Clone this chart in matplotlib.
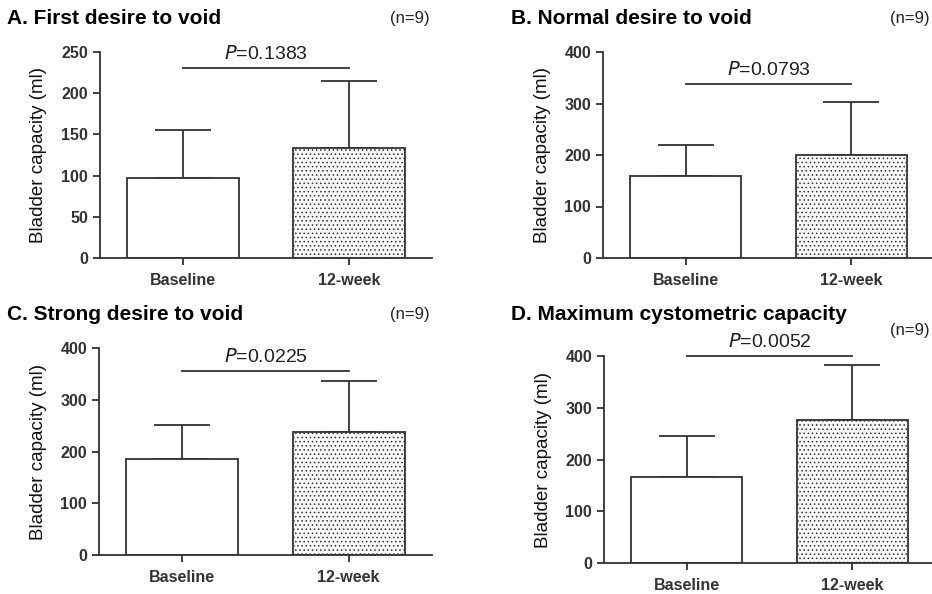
import matplotlib
matplotlib.use("Agg")
import matplotlib.pyplot as plt

plt.rcParams['font.family'] = ['Liberation Sans', 'DejaVu Sans']
plt.rcParams['hatch.color'] = '#a0a0a0'
plt.rcParams['hatch.linewidth'] = 0.6

groups = ["Baseline", "12-week"]
titles = ["A. First desire to void", "B. Normal desire to void",
          "C. Strong desire to void", "D. Maximum cystometric capacity"]
means = [[97, 133], [160, 200], [185, 237], [166, 276]]
sds = [[58, 82], [59, 103], [66, 100], [79, 107]]
pvalues = ["0.1383", "0.0793", "0.0225", "0.0052"]
pline = [231, 337, 355, 400]
ymax = [250, 400, 400, 400]
ystep = [50, 100, 100, 100]
n_label = "(n=9)"
ylabel = "Bladder capacity (ml)"

W, H = 932, 594
fig = plt.figure(figsize=(W / 100, H / 100), dpi=100)

# axes rectangles in pixels: left, top, right, bottom
rects = [(100, 52, 432, 258), (603, 52, 934, 258),
         (99, 348, 432, 555), (604, 356, 935, 563)]
title_pos = [(7, 19), (511, 19), (7, 314), (511, 314)]
n_pos = [(430, 19), (930, 19), (430, 314), (930, 330)]

dark = '#333333'
for i in range(4):
    l, t, r, b = rects[i]
    ax = fig.add_axes([l / W, 1 - b / H, (r - l) / W, (b - t) / H])
    x = [0, 1]
    ax.bar(x[0], means[i][0], width=0.67, color='white', edgecolor=dark, linewidth=1.3, zorder=2)
    ax.bar(x[1], means[i][1], width=0.67, color='#f8f8f8', edgecolor=dark, linewidth=1.3,
           hatch='....', zorder=2)
    ax.errorbar(x, means[i], yerr=[[0, 0], sds[i]], fmt='none', ecolor=dark,
                elinewidth=1.3, capsize=20, capthick=1.3, zorder=1)
    ax.plot([0, 1], [pline[i], pline[i]], color=dark, lw=1.3, clip_on=False)
    ax.text(0.5, pline[i] + ymax[i] * 0.025, r'$\it{P}$=' + pvalues[i], ha='center', va='bottom',
            fontsize=14, color='#222222')
    ax.set_xlim(-0.5, 1.5)
    ax.set_ylim(0, ymax[i])
    ax.set_yticks(range(0, ymax[i] + 1, ystep[i]))
    ax.set_xticks(x)
    ax.set_xticklabels(groups)
    for s in ['top', 'right']:
        ax.spines[s].set_visible(False)
    for s in ['left', 'bottom']:
        ax.spines[s].set_linewidth(1.3)
        ax.spines[s].set_color(dark)
    ax.tick_params(axis='both', colors=dark, width=1.3, labelsize=11.5, length=5)
    ax.tick_params(axis='x', pad=6)
    for lab in ax.get_xticklabels() + ax.get_yticklabels():
        lab.set_fontweight('bold')
        lab.set_color('#333333')
    ax.set_ylabel(ylabel, fontsize=13.5, color='#111111', labelpad=10)
    tx, ty = title_pos[i]
    fig.text(tx / W, 1 - ty / H, titles[i], fontsize=15, fontweight='bold', va='center', ha='left')
    nx, ny = n_pos[i]
    fig.text(nx / W, 1 - ny / H, n_label, fontsize=12, va='center', ha='right', color='#222222')

fig.savefig('out.png', dpi=100)
